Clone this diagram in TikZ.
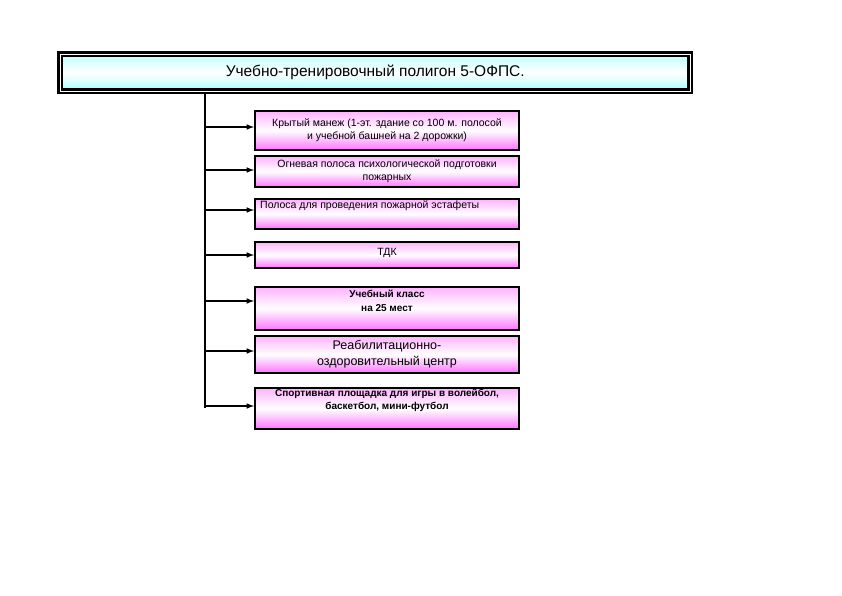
\documentclass[tikz,border=0pt]{standalone}
\usepackage{fontspec}
\setmainfont{Liberation Sans}
\begin{document}
\begin{tikzpicture}[x=1pt,y=-1pt,
 box/.style={draw=black,line width=2pt,top color=magenta!30!white,bottom color=magenta!55!white,middle color=white,anchor=north west,inner sep=1pt,align=center,font=\fontsize{10.5}{13}\selectfont},
 arr/.style={line width=1.5pt,-latex}]
\useasboundingbox (0,0) rectangle (842,595);
\node[draw=black,line width=2.5pt,double=white,double distance=1pt,minimum width=630,minimum height=37,anchor=north west,top color=cyan!25!white,bottom color=cyan!35!white,middle color=white,font=\fontsize{15.5}{18}\selectfont] (t) at (59,53) {Учебно-тренировочный полигон 5-ОФПС.};
\coordinate (top) at (205,92);
\coordinate (bot) at (205,408);
\draw[line width=1.5pt] (top) -- (bot);
\node[box,minimum width=264,minimum height=39] (b1) at (254,110) {Крытый манеж (1-эт. здание со 100 м. полосой\\и учебной башней на 2 дорожки)};
\node[box,minimum width=264,minimum height=31] (b2) at (254,155) {Огневая полоса психологической подготовки\\пожарных};
\node[box,minimum width=264,minimum height=30,anchor=north west] (b3) at (254,198) {};
\node[font=\fontsize{10.5}{13}\selectfont,anchor=north west,inner sep=1pt] (b3t) at (259,199) {Полоса для проведения пожарной эстафеты};
\node[box,minimum width=264,minimum height=26] (b4) at (254,241) {\raisebox{7pt}{ТДК}};
\node[box,minimum width=264,minimum height=43,font=\bfseries\fontsize{10}{14}\selectfont] (b5) at (254,286) {Учебный класс\\на 25 мест\\[2pt]};
\node[box,minimum width=264,minimum height=37,font=\fontsize{12.5}{16}\selectfont] (b6) at (254,335) {Реабилитационно-\\оздоровительный центр};
\node[box,minimum width=264,minimum height=37,font=\bfseries\fontsize{10}{13}\selectfont] (b7) at (254,387) {Спортивная площадка для игры в волейбол,\\баскетбол, мини-футбол\\[6pt]};
\foreach \n/\y in {b1/127,b2/170,b3/210,b4/255,b5/301,b6/351,b7/406}
  \draw[arr] (205,\y) -- (\n.west |- 0,\y);
\end{tikzpicture}
\end{document}
